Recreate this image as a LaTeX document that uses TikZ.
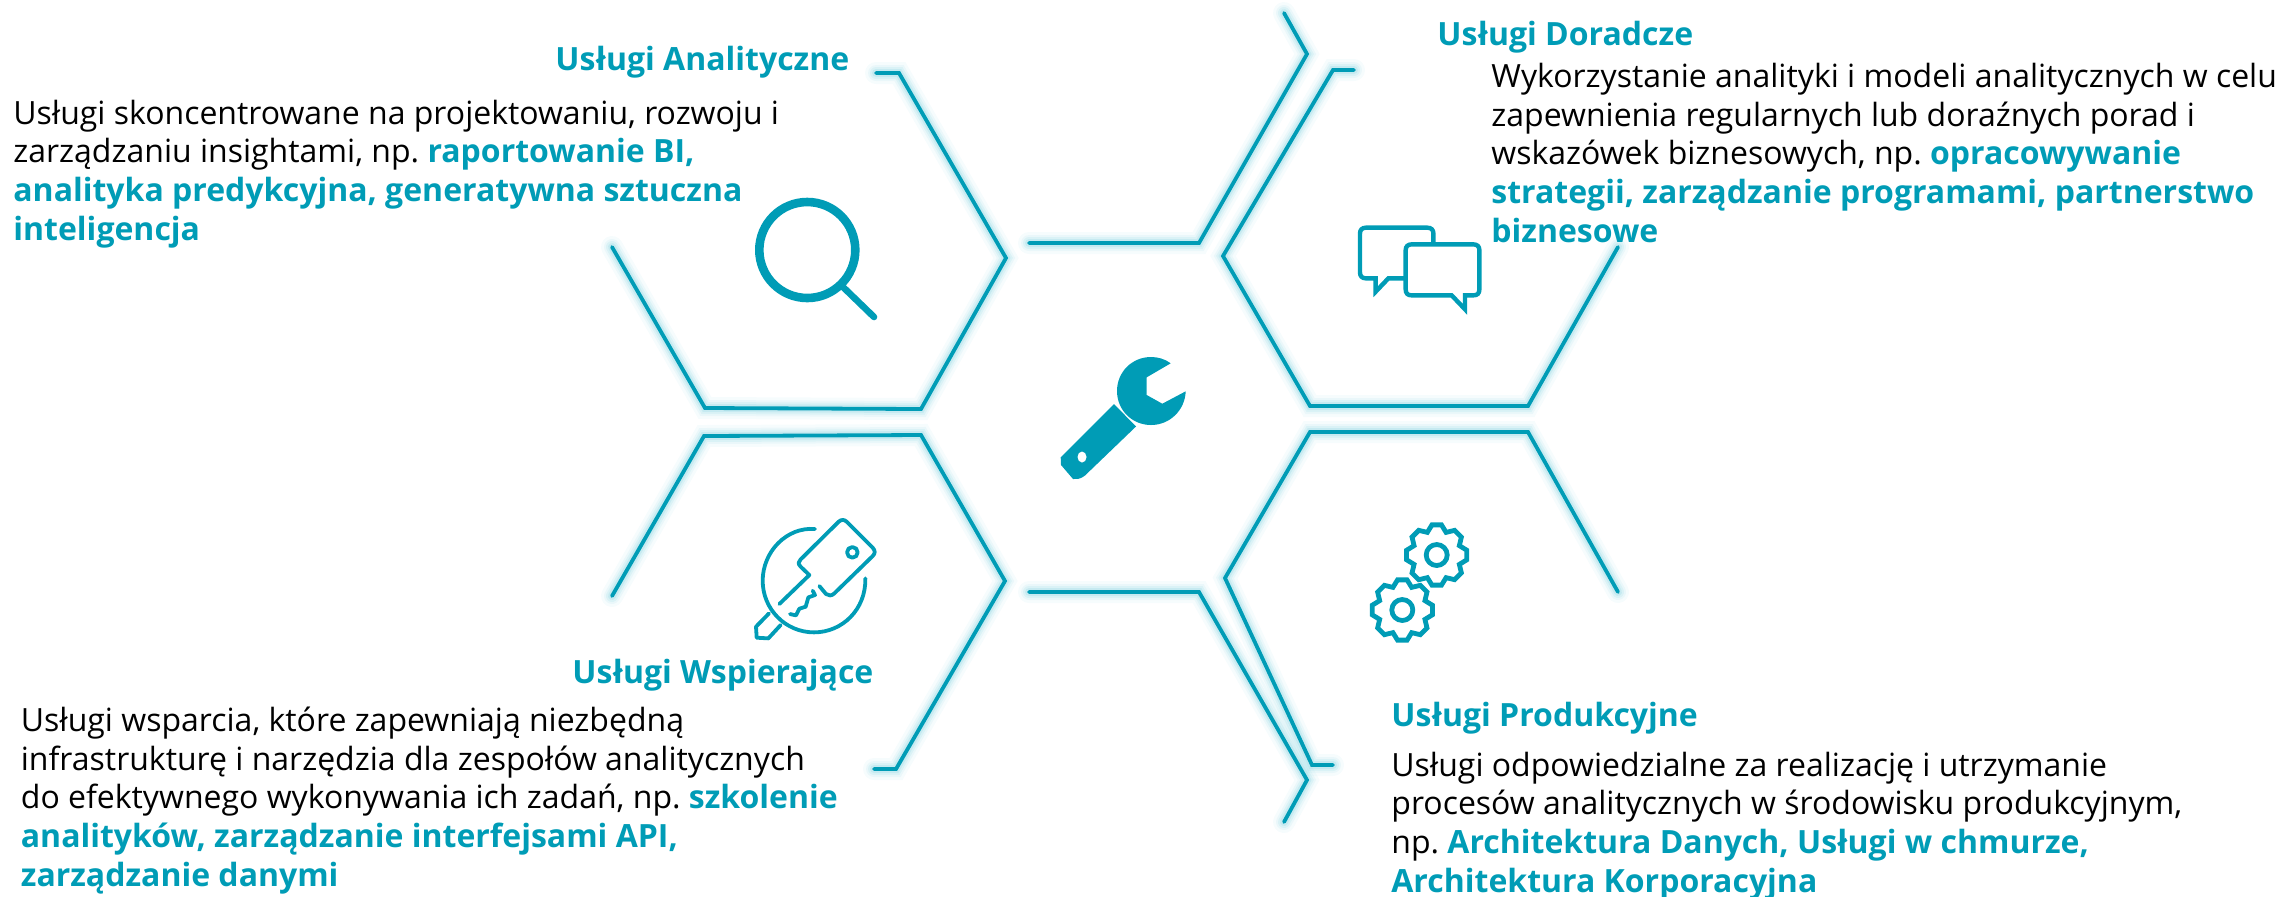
\documentclass[tikz,border=0pt]{standalone}
\usepackage{fontspec}
\setmainfont{Open Sans}
\frenchspacing
\definecolor{teal}{HTML}{009CB6}
\definecolor{halo}{HTML}{4FBFD2}
\tikzset{
  x=0.5pt,y=-0.5pt,
  hexline/.style={draw=teal,line width=1.9pt,line join=miter,line cap=round,
    preaction={draw=halo,draw opacity=.05,line width=11pt,line cap=round},
    preaction={draw=halo,draw opacity=.07,line width=8pt,line cap=round},
    preaction={draw=halo,draw opacity=.10,line width=6pt,line cap=round},
    preaction={draw=halo,draw opacity=.14,line width=4pt,line cap=round}},
  bodytext/.style={align=left,anchor=base west,inner sep=0pt,font=\fontsize{16}{19.3}\selectfont,text=black},
  titletext/.style={anchor=base west,inner sep=0pt,font=\fontsize{16}{19}\selectfont\bfseries,text=teal},
  icon/.style={draw=teal,line width=2.2pt,line cap=round,line join=round},
  thinicon/.style={draw=teal,line width=1.9pt,line cap=round,line join=round},
}
\newcommand{\hl}[1]{\textcolor{teal}{\bfseries #1}}
\begin{document}
\begin{tikzpicture}
\useasboundingbox (0,0) rectangle (2280,896);
% hexagon outlines
\coordinate (a1) at (876,73);\coordinate (a2) at (899,73);\coordinate (a3) at (1006,258);\coordinate (a4) at (921,409);\coordinate (a5) at (705,408);\coordinate (a6) at (612,247);
\draw[hexline] (a1)--(a2)--(a3)--(a4)--(a5)--(a6);
\coordinate (t1) at (1284,13);\coordinate (t2) at (1307,54);\coordinate (t3) at (1199,243);\coordinate (t4) at (1029,243);
\draw[hexline] (t1)--(t2)--(t3)--(t4);
\coordinate (d1) at (1354,70);\coordinate (d2) at (1333,70);\coordinate (d3) at (1223,256);\coordinate (d4) at (1310,406);\coordinate (d5) at (1528,406);\coordinate (d6) at (1618,247);
\draw[hexline] (d1)--(d2)--(d3)--(d4)--(d5)--(d6);
\coordinate (p1) at (1618,592);\coordinate (p2) at (1528,432);\coordinate (p3) at (1310,432);\coordinate (p4) at (1225,578);\coordinate (p5) at (1312,765);\coordinate (p6) at (1333,765);
\draw[hexline] (p1)--(p2)--(p3)--(p4)--(p5)--(p6);
\coordinate (w1) at (612,596);\coordinate (w2) at (704,436);\coordinate (w3) at (921,435);\coordinate (w4) at (1005,581);\coordinate (w5) at (896,769);\coordinate (w6) at (874,769);
\draw[hexline] (w1)--(w2)--(w3)--(w4)--(w5)--(w6);
\coordinate (b1) at (1029,592);\coordinate (b2) at (1199,592);\coordinate (b3) at (1307,780);\coordinate (b4) at (1284,822);
\draw[hexline] (b1)--(b2)--(b3)--(b4);
% magnifier
\draw[draw=teal,line width=4.3pt] (807.3,250) circle[radius=48];
\draw[draw=teal,line width=3.3pt,line cap=round] (843,287)--(874,317);
% wrench
\fill[teal] (1114,404)--(1136,426.5)--(1085,475.5) .. controls (1079,480) and (1076,479) .. (1073,479)--(1061,465)--(1060.7,457.5)--cycle;
\fill[teal] (1170.7,363.3)--(1146.7,377.3)--(1146.7,395)--(1162.3,403.7)--(1185.7,391.3)
  .. controls (1185,410) and (1170,425) .. (1151,425) .. controls (1132,425) and (1117,410) .. (1117,391)
  .. controls (1117,372) and (1132,357) .. (1151,357) .. controls (1158,357) and (1165,359) .. (1170.7,363.3)--cycle;
\fill[white] (1082,457) ellipse[x radius=4.5,y radius=5.5];
% key
\begin{scope}[shift={(740,510)},x=0.1667pt,y=-0.1667pt]
\draw[thinicon] (225,57) .. controls (140,50) and (68,125) .. (68,212) .. controls (68,298) and (137,367) .. (222,367) .. controls (307,367) and (378,298) .. (376,205);
\draw[thinicon] (118,282)--(208,195)--(182,170) .. controls (172,160) and (176,155) .. (182,148)--(296,35) .. controls (304,28) and (312,28) .. (320,35)--(398,113) .. controls (406,122) and (406,130) .. (398,138)--(283,250) .. controls (275,258) and (265,258) .. (258,252)--(238,228);
\draw[thinicon] (150,312)--(168,316)--(178,296)--(197,290)--(205,262)--(225,255)--(218,242);
\draw[thinicon] (337,127) circle[radius=16];
\draw[thinicon] (87,310)--(48,350)--(50,383)--(85,385)--(122,345);
\end{scope}
% gears
\foreach \cx/\cy in {1436.7/555,1402.3/610}{
\begin{scope}[shift={(\cx,\cy)}]
\draw[icon,line width=2.4pt,line join=miter] (-9:30.5) \foreach \a in {0,45,...,315}{ -- (\a-9:30.5) -- (\a+9:30.5) -- (\a+22.5:24.5)} -- cycle;
\draw[icon,line width=2.4pt] (0,0) circle[radius=10.5];
\end{scope}}
% chat bubbles
\begin{scope}[shift={(1340,210)},x=0.1667pt,y=-0.1667pt]
\draw[icon,line join=miter] (195,205)--(145,205)--(107,245)--(107,205)--(78,205) .. controls (66,205) and (60,198) .. (60,188)--(60,70) .. controls (60,60) and (66,53) .. (78,53)--(262,53) .. controls (274,53) and (280,60) .. (280,70)--(280,100);
\draw[icon,line join=miter] (215,103)--(400,103) .. controls (412,103) and (418,110) .. (418,120)--(418,238) .. controls (418,250) and (412,256) .. (400,256)--(375,256)--(375,298)--(335,256)--(215,256) .. controls (203,256) and (197,250) .. (197,238)--(197,120) .. controls (197,110) and (203,103) .. (215,103)--cycle;
\end{scope}
% texts
\node[titletext] (ta) at (555,70) {Usługi Analityczne};
\node[bodytext] (ba) at (13,240) {Usługi skoncentrowane na projektowaniu, rozwoju i\\zarządzaniu insightami, np. \hl{raportowanie BI,}\\\hl{analityka predykcyjna, generatywna sztuczna}\\\hl{inteligencja}};
\node[titletext] (td) at (1437,45) {Usługi Doradcze};
\node[bodytext] (bd) at (1491,242) {Wykorzystanie analityki i modeli analitycznych w celu\\zapewnienia regularnych lub doraźnych porad i\\wskazówek biznesowych, np. \hl{opracowywanie}\\\hl{strategii, zarządzanie programami, partnerstwo}\\\hl{biznesowe}};
\node[titletext] (tw) at (572,683) {Usługi Wspierające};
\node[bodytext] (bw) at (20.5,886) {Usługi wsparcia, które zapewniają niezbędną\\infrastrukturę i narzędzia dla zespołów analitycznych\\do efektywnego wykonywania ich zadań, np. \hl{szkolenie}\\\hl{analityków, zarządzanie interfejsami API,}\\\hl{zarządzanie danymi}};
\node[titletext] (tp) at (1391,726) {Usługi Produkcyjne};
\node[bodytext] (bp) at (1391,892) {Usługi odpowiedzialne za realizację i utrzymanie\\procesów analitycznych w środowisku produkcyjnym,\\np. \hl{Architektura Danych, Usługi w chmurze,}\\\hl{Architektura Korporacyjna}};
\end{tikzpicture}
\end{document}
